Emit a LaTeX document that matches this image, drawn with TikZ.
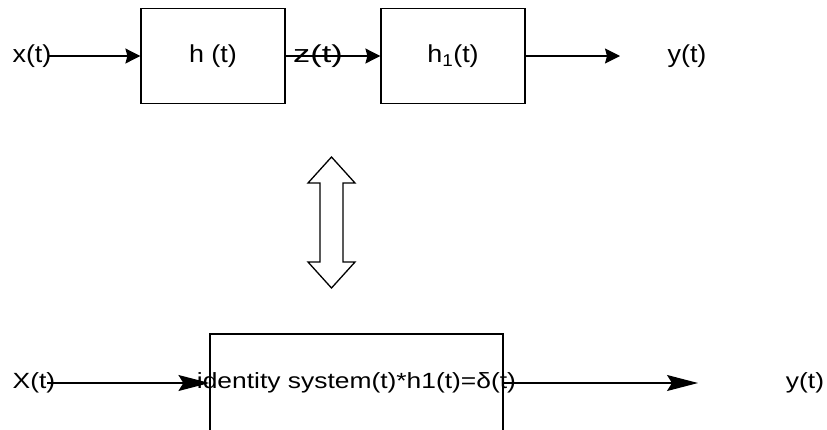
\documentclass[tikz,border=0pt]{standalone}
\usepackage{fontspec}
\setmainfont{Liberation Sans}[FakeStretch=1.1]
\newfontfamily\sysfont{Liberation Sans}[FakeStretch=1.2]
\newfontfamily\zfont{Liberation Sans}[FakeStretch=1.4]
\usetikzlibrary{arrows.meta}

\begin{document}
\begin{tikzpicture}[%
      x=1pt,y=-1pt,
      sig/.style={inner sep=0pt,font=\fontsize{24.5}{28}\selectfont},
      sigb/.style={inner sep=0pt,font=\sysfont\fontsize{22}{26}\selectfont},
      block/.style={rectangle,draw,line width=1.2pt,minimum width=144pt,minimum height=95pt,font=\fontsize{24.5}{28}\selectfont},
      sysblock/.style={rectangle,draw,line width=1.2pt,minimum width=293pt,minimum height=98pt},
      flow/.style={line width=1.2pt,-{Stealth[length=15pt,width=15pt,inset=2pt]}},
      flowb/.style={line width=1.2pt,-{Stealth[length=31pt,width=16pt,inset=5pt]}},
      equiv/.style={draw,line width=1.3pt,line join=miter}
      ]
      \useasboundingbox (0,0) rectangle (827,429);
      \clip (0,0) rectangle (827,429);
      % top chain
      \draw (32,56) node[sig] (xin) {x(t)};
      \draw (213,56) node[block] (h) {h (t)};
      \draw (318,56) node[sig,font=\zfont\fontsize{24.5}{28}\selectfont] (z) {z(t)};
      \draw (453,56) node[block] (h1) {h\textsubscript{1}(t)};
      \coordinate (yo) at (620,56);
      \draw (687,56) node[sig] (yout) {y(t)};
      \draw[flow] ([xshift=-4pt]xin.east) -- (h.west);
      \draw[flow] (h.east) -- (h1.west);
      \draw[flow] (h1.east) -- (yo);
      % equivalence
      \coordinate (eq) at (331.5,222.5);
      \draw[equiv] ([yshift=65.5pt]eq) -- ++(23.5,26) -- ++(-12,0) -- ++(0,79) -- ++(12,0)
            -- ++(-23.5,26) -- ++(-23.5,-26) -- ++(12,0) -- ++(0,-79) -- ++(-12,0) -- cycle;
      % bottom chain
      \draw (34,383) node[sigb] (Xin) {X(t)};
      \draw (356.5,383) node[sysblock] (id) {};
      \draw (id.center) node[sigb] (idt) {identity system(t)*h1(t)=δ(t)};
      \coordinate (Yo) at (698,383);
      \draw (805,383) node[sigb] (Yout) {y(t)};
      \draw[flowb] ([xshift=-8pt]Xin.east) -- (id.west);
      \draw[flowb] (id.east) -- (Yo);
    \end{tikzpicture}
\end{document}
